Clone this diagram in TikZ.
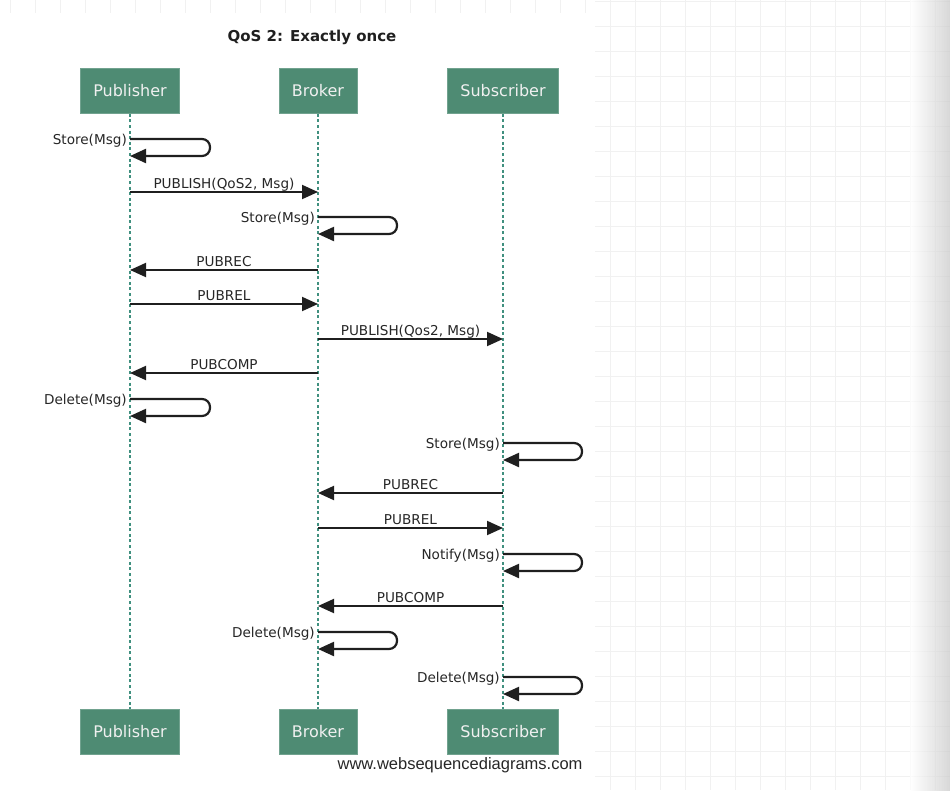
\documentclass[tikz,border=0pt]{standalone}
\usepackage{fontspec}
\setmainfont{DejaVu Sans}
\newfontfamily\footfont{Liberation Sans}
\usetikzlibrary{arrows.meta,positioning,calc}
\definecolor{actorgreen}{HTML}{4E8B73}
\definecolor{lifegreen}{HTML}{40907F}
\definecolor{gridgray}{HTML}{F1F1F1}

\begin{document}
\begin{tikzpicture}[x=1pt,y=-1pt,
  actor/.style={rectangle, draw=actorgreen!80!white, fill=actorgreen, text=white!94!black, minimum height=45pt, inner xsep=13pt, font=\fontsize{16}{19}\selectfont, line width=0.6pt},
  lifeline/.style={draw=lifegreen, line width=2.8pt, dash pattern=on 3pt off 2.6pt},
  msg/.style={-{Triangle[length=16pt,width=14pt]}, line width=1.9pt, draw=black!88},
  selfmsg/.style={msg, line width=2.2pt, rounded corners=8pt},
  lbl/.style={font=\fontsize{13.6}{16}\selectfont, text=black!85, inner sep=0pt, text depth=0pt},
  gridline/.style={draw=gridgray, line width=0.8pt},
  ttl/.style={font=\bfseries\fontsize{15}{18}\selectfont, text=black!88},
]
\useasboundingbox (0,0) rectangle (950,790);

% --- paper background: faint grid on the right and along the top ---
\foreach \gx in {610,635,...,935} \draw[gridline] (\gx,0) -- (\gx,790);
\foreach \gy in {1,26,...,776} \draw[gridline] (595,\gy) -- (950,\gy);
\foreach \gx in {10,35,...,585} \draw[gridline] (\gx,0) -- (\gx,13);
\shade[left color=white, right color=black!22, opacity=0.7] (910,0) rectangle (950,790);

% --- lifeline columns ---
\def\xPub{130}\def\xBro{318}\def\xSub{503}
\def\yTop{91}\def\yBot{732}

\node[ttl] (title) at (312,37) {QoS 2: Exactly once};

\node[actor] (pubtop) at (\xPub,\yTop) {Publisher};
\node[actor] (brotop) at (\xBro,\yTop) {Broker};
\node[actor] (subtop) at (\xSub,\yTop) {Subscriber};
\node[actor] (pubbot) at (\xPub,\yBot) {Publisher};
\node[actor] (brobot) at (\xBro,\yBot) {Broker};
\node[actor] (subbot) at (\xSub,\yBot) {Subscriber};

\draw[lifeline] (pubtop.south) -- (pubbot.north);
\draw[lifeline] (brotop.south) -- (brobot.north);
\draw[lifeline] (subtop.south) -- (subbot.north);

% --- publisher -> broker handshake ---
\draw[selfmsg] (pubtop |- 0,139) -- ++(80,0) -- ++(0,17) -- (pubtop |- 0,156);
\node[lbl, anchor=east] (pubstore) at (\xPub-3,139) {Store(Msg)};

\draw[msg] (pubtop |- 0,192) -- node[lbl, above=3pt] (pubpublish) {PUBLISH(QoS2, Msg)} (brotop |- 0,192);

\draw[selfmsg] (brotop |- 0,217) -- ++(79,0) -- ++(0,17) -- (brotop |- 0,234);
\node[lbl, anchor=east] (brostore) at (\xBro-3,217) {Store(Msg)};

\draw[msg] (brotop |- 0,270) -- node[lbl, above=3pt] (bropubrec) {PUBREC} (pubtop |- 0,270);
\draw[msg] (pubtop |- 0,304) -- node[lbl, above=3pt] (pubpubrel) {PUBREL} (brotop |- 0,304);

% --- broker -> subscriber forward ---
\draw[msg] (brotop |- 0,339) -- node[lbl, above=3pt] (bropublish) {PUBLISH(Qos2, Msg)} (subtop |- 0,339);

\draw[msg] (brotop |- 0,373) -- node[lbl, above=3pt] (bropubcomp) {PUBCOMP} (pubtop |- 0,373);

\draw[selfmsg] (pubtop |- 0,399) -- ++(80,0) -- ++(0,17) -- (pubtop |- 0,416);
\node[lbl, anchor=east] (pubdelete) at (\xPub-3,399) {Delete(Msg)};

\draw[selfmsg] (subtop |- 0,443) -- ++(79,0) -- ++(0,17) -- (subtop |- 0,460);
\node[lbl, anchor=east] (substore) at (\xSub-3,443) {Store(Msg)};

\draw[msg] (subtop |- 0,493) -- node[lbl, above=3pt] (subpubrec) {PUBREC} (brotop |- 0,493);
\draw[msg] (brotop |- 0,528) -- node[lbl, above=3pt] (bropubrel) {PUBREL} (subtop |- 0,528);

\draw[selfmsg] (subtop |- 0,554) -- ++(79,0) -- ++(0,17) -- (subtop |- 0,571);
\node[lbl, anchor=east] (subnotify) at (\xSub-3,554) {Notify(Msg)};

\draw[msg] (subtop |- 0,606) -- node[lbl, above=3pt] (subpubcomp) {PUBCOMP} (brotop |- 0,606);

\draw[selfmsg] (brotop |- 0,632) -- ++(79,0) -- ++(0,17) -- (brotop |- 0,649);
\node[lbl, anchor=east] (brodelete) at (\xBro-3,632) {Delete(Msg)};

\draw[selfmsg] (subtop |- 0,677) -- ++(79,0) -- ++(0,17) -- (subtop |- 0,694);
\node[lbl, anchor=east] (subdelete) at (\xSub-3,677) {Delete(Msg)};

% --- credit line under the bottom row ---
\node[font=\footfont\fontsize{16.5}{19}\selectfont, text=black!85, anchor=east] (credit) at (586,765) {www.websequencediagrams.com};

\end{tikzpicture}
\end{document}
